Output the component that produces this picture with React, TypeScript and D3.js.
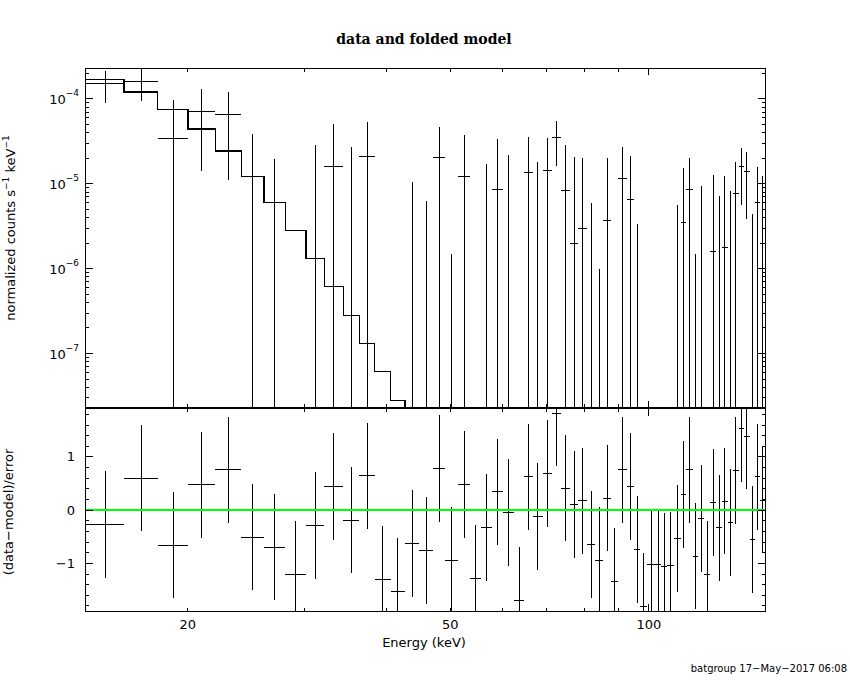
import React from 'react';
import * as d3 from 'd3';

// channel edges (keV), 59 bins
const energyEdges = [
  14.0, 16.0, 18.0, 20.0, 22.0, 24.1, 26.1, 28.1, 30.2, 32.2, 34.4, 36.4, 38.4, 40.6, 42.7,
  44.8, 47.1, 49.1, 51.4, 53.6, 55.7, 57.9, 60.1, 62.4, 64.7, 66.7, 69.1, 71.3, 73.6, 76.0,
  78.1, 80.6, 82.9, 85.2, 87.7, 89.9, 92.5, 94.8, 97.1, 99.5, 102.1, 104.5, 106.7, 109.2, 111.7,
  114.0, 116.5, 118.9, 121.4, 124.0, 126.6, 129.1, 131.6, 134.2, 136.8, 139.5, 142.1, 144.8, 147.3,
  150.0,
];

// normalized counts s^-1 keV^-1, in units of 1e-5
const rate = [
  15.3, 16.2, 3.43, 7.2, 6.6, -1.48, -2.49, -4.8, -0.97, 1.62, -0.6, 2.11, -4.03, -4.5, -1.75,
  -1.94, 2.05, -2.45, 1.23, -3.2, -0.82, 0.861, -0.098, -3.8, 1.37, -0.24, 1.42, 3.56, 0.837, 0.199,
  0.298, -1.06, -1.6, 0.372, -2.08, 1.16, 0.656, -0.96, -2.35, -1.28, -1.28, -1.26, -1.25, -0.64, 0.352,
  0.861, -0.94, -0.17, -1.33, 0.16, -0.35, 0.178, -0.25, 0.773, 1.6, 1.38, -0.54, 0.61, 0.2,
];
const rateErr = [
  6.3, 6.8, 6.3, 5.8, 5.5, 5.35, 4.45, 4.2, 3.84, 3.5, 3.31, 3.25, 3.1, 2.95, 2.8,
  2.57, 2.62, 2.6, 2.53, 2.5, 2.53, 2.51, 2.29, 2.25, 2.19, 2.05, 2.05, 1.95, 2.03, 1.87,
  1.7, 1.65, 1.7, 1.63, 1.55, 1.53, 1.47, 1.3, 1.3, 1.25, 1.25, 1.2, 1.2, 1.2, 1.18,
  1.14, 1.09, 1.11, 1.1, 1.11, 1.06, 1.06, 1.07, 1.04, 1.04, 0.99, 0.98, 0.97, 1.05,
];
// folded model for the bins where it is above the plot floor (1e-5)
const model = [
  17.0, 12.1, 7.57, 4.43, 2.44, 1.23, 0.598, 0.283, 0.133, 0.0618, 0.0281, 0.0131, 0.00615, 0.00277,
  0.00125,
];

const xTickLabels = [20, 50, 100];
const yTopDecades = [-7, -6, -5, -4];
const yResLabels = [-1, 0, 1];

const W = 850;
const H = 680;
const left = 85.7;
const right = 765;
const top = 68.3;
const mid = 407.5;
const bottom = 611;

const font = '"DejaVu Sans", sans-serif';

const App: React.FC = () => {
  const x = d3.scaleLog().domain([14, 150]).range([left, right]);
  const yTop = d3.scaleLog().domain([2.31e-8, 2.3e-4]).range([mid, top]);
  const yRes = d3.scaleLinear().domain([-1.895, 1.93]).range([bottom, mid]);

  const yMin = yTop.domain()[0];
  const yv = (v: number) => (v > yMin ? yTop(v) : mid + 10);

  const bins = rate.map((r, i) => {
    const lo = energyEdges[i];
    const hi = energyEdges[i + 1];
    const v = r * 1e-5;
    const e = rateErr[i] * 1e-5;
    const m = i < model.length ? model[i] * 1e-5 : 0;
    return { lo, hi, mid: (lo + hi) / 2, v, e, m, res: (v - m) / e };
  });

  // minor/major ticks for the log axes
  const xTicks: { v: number; major: boolean }[] = [];
  [10, 100].forEach(dec => {
    for (let k = 1; k <= 9; k++) {
      const v = k * dec;
      if (v >= 14 && v <= 150) xTicks.push({ v, major: k === 1 });
    }
  });
  const yTicks: { v: number; major: boolean }[] = [];
  [-8, -7, -6, -5, -4].forEach(p => {
    for (let k = 1; k <= 9; k++) {
      const v = k * Math.pow(10, p);
      if (v >= 2.31e-8 && v <= 2.3e-4) yTicks.push({ v, major: k === 1 });
    }
  });
  const resTicks = d3.range(-18, 20, 2).map(t => ({ v: t / 10, major: t % 10 === 0 }));

  // model as a step line
  const modelPath = (() => {
    const p = d3.path();
    model.forEach((mv, i) => {
      const y = yv(mv * 1e-5);
      const x0 = x(energyEdges[i]);
      const x1 = x(energyEdges[i + 1]);
      if (i === 0) p.moveTo(x0, y);
      else p.lineTo(x0, y);
      p.lineTo(x1, y);
    });
    p.lineTo(x(energyEdges[model.length]), mid + 10);
    return p.toString();
  })();

  const tickLen = (major: boolean) => (major ? 7 : 3.5);

  const frameTicks = (y0: number, y1: number, yTickList: { y: number; major: boolean }[]) => (
    <g stroke="#000" strokeWidth={1}>
      {xTicks.map((t, i) => (
        <g key={'x' + i}>
          <line x1={x(t.v)} x2={x(t.v)} y1={y1} y2={y1 - tickLen(t.major)} />
          <line x1={x(t.v)} x2={x(t.v)} y1={y0} y2={y0 + tickLen(t.major)} />
        </g>
      ))}
      {yTickList.map((t, i) => (
        <g key={'y' + i}>
          <line x1={left} x2={left + tickLen(t.major)} y1={t.y} y2={t.y} />
          <line x1={right} x2={right - tickLen(t.major)} y1={t.y} y2={t.y} />
        </g>
      ))}
    </g>
  );

  return (
    <svg
      width={W}
      height={H}
      style={{ position: 'absolute', left: 0, top: 0, background: '#fff' }}
      shapeRendering="crispEdges"
    >
      <defs>
        <clipPath id="clipTop">
          <rect x={left} y={top} width={right - left} height={mid - top} />
        </clipPath>
        <clipPath id="clipRes">
          <rect x={left} y={mid} width={right - left} height={bottom - mid} />
        </clipPath>
      </defs>

      <text x={424} y={44} textAnchor="middle" fontFamily='"DejaVu Serif", serif' fontSize={14} fontWeight="bold">
        data and folded model
      </text>

      {/* upper panel: data and model */}
      <g clipPath="url(#clipTop)" stroke="#000" strokeWidth={1} fill="none">
        {bins.map((b, i) => (
          <g key={i}>
            {b.v > yMin && <line x1={x(b.lo)} x2={x(b.hi)} y1={yv(b.v)} y2={yv(b.v)} />}
            {b.v + b.e > yMin && (
              <line x1={x(b.mid)} x2={x(b.mid)} y1={yv(b.v - b.e)} y2={yv(b.v + b.e)} />
            )}
          </g>
        ))}
        <path d={modelPath} strokeWidth={1.3} />
      </g>
      <rect x={left} y={top} width={right - left} height={mid - top} fill="none" stroke="#000" />
      {frameTicks(top, mid, yTicks.map(t => ({ y: yTop(t.v), major: t.major })))}
      {yTopDecades.map(p => (
        <text key={p} x={79} y={yTop(Math.pow(10, p)) + 5} textAnchor="end" fontFamily={font} fontSize={13}>
          10
          <tspan dy={-8} fontSize={9}>
            {'\u2212' + Math.abs(p)}
          </tspan>
        </text>
      ))}
      <text transform={`translate(15,228) rotate(-90)`} textAnchor="middle" fontFamily={font} fontSize={13}>
        normalized counts s
        <tspan dy={-6} fontSize={9}>{'\u22121'}</tspan>
        <tspan dy={6}>{'  keV'}</tspan>
        <tspan dy={-6} fontSize={9}>{'\u22121'}</tspan>
      </text>

      {/* lower panel: residuals */}
      <g clipPath="url(#clipRes)" stroke="#000" strokeWidth={1} fill="none">
        {bins.map((b, i) => (
          <g key={i}>
            <line x1={x(b.lo)} x2={x(b.hi)} y1={yRes(b.res)} y2={yRes(b.res)} />
            <line x1={x(b.mid)} x2={x(b.mid)} y1={yRes(b.res - 1)} y2={yRes(b.res + 1)} />
          </g>
        ))}
        <line x1={left} x2={right} y1={yRes(0)} y2={yRes(0)} stroke="#00ff00" strokeWidth={2} />
      </g>
      <rect x={left} y={mid + 1} width={right - left} height={bottom - mid - 1} fill="none" stroke="#000" />
      {frameTicks(mid + 1, bottom, resTicks.map(t => ({ y: yRes(t.v), major: t.major })))}
      {yResLabels.map(v => (
        <text key={v} x={75} y={yRes(v) + 4.5} textAnchor="end" fontFamily={font} fontSize={13}>
          {v < 0 ? '\u2212' + Math.abs(v) : String(v)}
        </text>
      ))}
      <text transform={`translate(13,512) rotate(-90)`} textAnchor="middle" fontFamily={font} fontSize={13}>
        (data{'\u2212'}model)/error
      </text>

      {xTickLabels.map(v => (
        <text key={v} x={x(v)} y={629} textAnchor="middle" fontFamily={font} fontSize={13}>
          {v}
        </text>
      ))}
      <text x={424} y={647} textAnchor="middle" fontFamily={font} fontSize={13}>
        Energy (keV)
      </text>
      <text x={847} y={672} textAnchor="end" fontFamily={font} fontSize={10}>
        batgroup 17{'\u2212'}May{'\u2212'}2017 06:08
      </text>
    </svg>
  );
};

export default App;
